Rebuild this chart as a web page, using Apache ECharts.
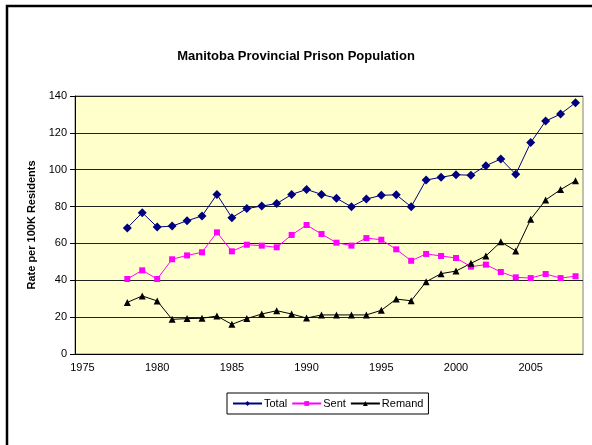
<!DOCTYPE html>
<html>
<head>
<meta charset="utf-8">
<script src="https://cdn.jsdelivr.net/npm/echarts@6/dist/echarts.min.js"></script>
<style>
  html, body { margin: 0; padding: 0; background: #fff; }
  #chart { width: 592px; height: 445px; }
</style>
</head>
<body>
<div id="chart"></div>
<script>
// years on the category axis (1975-1977 have no data)
const years = ['1975', '1976', '1977', '1978', '1979', '1980', '1981', '1982', '1983', '1984',
  '1985', '1986', '1987', '1988', '1989', '1990', '1991', '1992', '1993', '1994',
  '1995', '1996', '1997', '1998', '1999', '2000', '2001', '2002', '2003', '2004',
  '2005', '2006', '2007', '2008'];

// rate per 100K residents
const total = [null, null, null, 68.4, 76.7, 68.9, 69.4, 72.3, 74.9, 86.6,
  74.0, 78.9, 80.3, 81.6, 86.6, 89.3, 86.6, 84.5, 79.9, 84.1,
  86.1, 86.4, 79.9, 94.4, 95.9, 97.3, 97.0, 102.2, 105.8, 97.5,
  114.7, 126.4, 130.2, 136.4];
const sent = [null, null, null, 40.7, 45.4, 40.7, 51.4, 53.5, 55.2, 66.0,
  55.7, 59.3, 58.8, 57.9, 64.6, 70.0, 65.1, 60.4, 58.8, 62.9,
  62.0, 56.8, 50.6, 54.3, 53.2, 52.1, 47.4, 48.5, 44.5, 41.6,
  41.2, 43.4, 41.2, 42.2];
const remand = [null, null, null, 28.0, 31.5, 28.8, 18.8, 19.2, 19.4, 20.6,
  16.1, 19.2, 21.7, 23.5, 21.7, 19.5, 21.2, 21.2, 21.2, 21.2,
  23.7, 29.8, 28.9, 39.2, 43.6, 45.0, 49.2, 53.2, 60.9, 55.9,
  73.1, 83.6, 89.2, 94.0];

const font = 'Liberation Sans, Arial, sans-serif';

const chart = echarts.init(document.getElementById('chart'));

chart.setOption({
  animation: false,
  textStyle: { fontFamily: font },
  title: {
    text: 'Manitoba Provincial Prison Population',
    left: 'center',
    top: 45,
    textStyle: { fontSize: 13, fontWeight: 'bold', color: '#000', fontFamily: font }
  },
  // outer chart frame (only top/left are visible in the window)
  graphic: [{
    type: 'rect',
    shape: { x: 7, y: 6, width: 800, height: 800 },
    style: { fill: 'none', stroke: '#000', lineWidth: 2.5 },
    silent: true
  }],
  grid: {
    left: 75,
    right: 9,
    top: 96,
    bottom: 91,
    show: true,
    backgroundColor: '#FFFFCC',
    borderColor: '#808080',
    borderWidth: 1
  },
  legend: {
    top: 393,
    left: 227,
    data: ['Total', 'Sent', 'Remand'],
    borderColor: '#000',
    borderWidth: 1,
    padding: [5, 5, 5, 5],
    itemGap: 4,
    itemWidth: 29,
    itemHeight: 6,
    textStyle: { fontSize: 11, color: '#000', fontFamily: font, padding: [0, 0, 0, -3] }
  },
  xAxis: {
    type: 'category',
    data: years,
    boundaryGap: true,
    axisLine: { lineStyle: { color: '#000', width: 1 } },
    axisTick: { interval: 0, length: 4, lineStyle: { color: '#000' } },
    axisLabel: { interval: 4, fontSize: 11, color: '#000', margin: 8, fontFamily: font },
    splitLine: { show: false }
  },
  yAxis: {
    type: 'value',
    min: 0,
    max: 140,
    interval: 20,
    name: 'Rate per 100K Residents',
    nameLocation: 'middle',
    nameGap: 38,
    nameTextStyle: { fontSize: 11, fontWeight: 'bold', color: '#000', fontFamily: font },
    axisLine: { show: true, lineStyle: { color: '#000', width: 1 } },
    axisTick: { show: true, length: 5, lineStyle: { color: '#000' } },
    axisLabel: { fontSize: 11, color: '#000', margin: 8, fontFamily: font },
    splitLine: { lineStyle: { color: '#222', width: 1 } }
  },
  series: [
    {
      name: 'Total',
      type: 'line',
      data: total,
      symbol: 'diamond',
      symbolSize: 9,
      itemStyle: { color: '#000080' },
      lineStyle: { color: '#000080', width: 1 }
    },
    {
      name: 'Sent',
      type: 'line',
      data: sent,
      symbol: 'rect',
      symbolSize: 6,
      itemStyle: { color: '#FF00FF' },
      lineStyle: { color: '#FF00FF', width: 1 }
    },
    {
      name: 'Remand',
      type: 'line',
      data: remand,
      symbol: 'triangle',
      symbolSize: 7,
      itemStyle: { color: '#000' },
      lineStyle: { color: '#000', width: 1 }
    }
  ]
});
</script>
</body>
</html>
